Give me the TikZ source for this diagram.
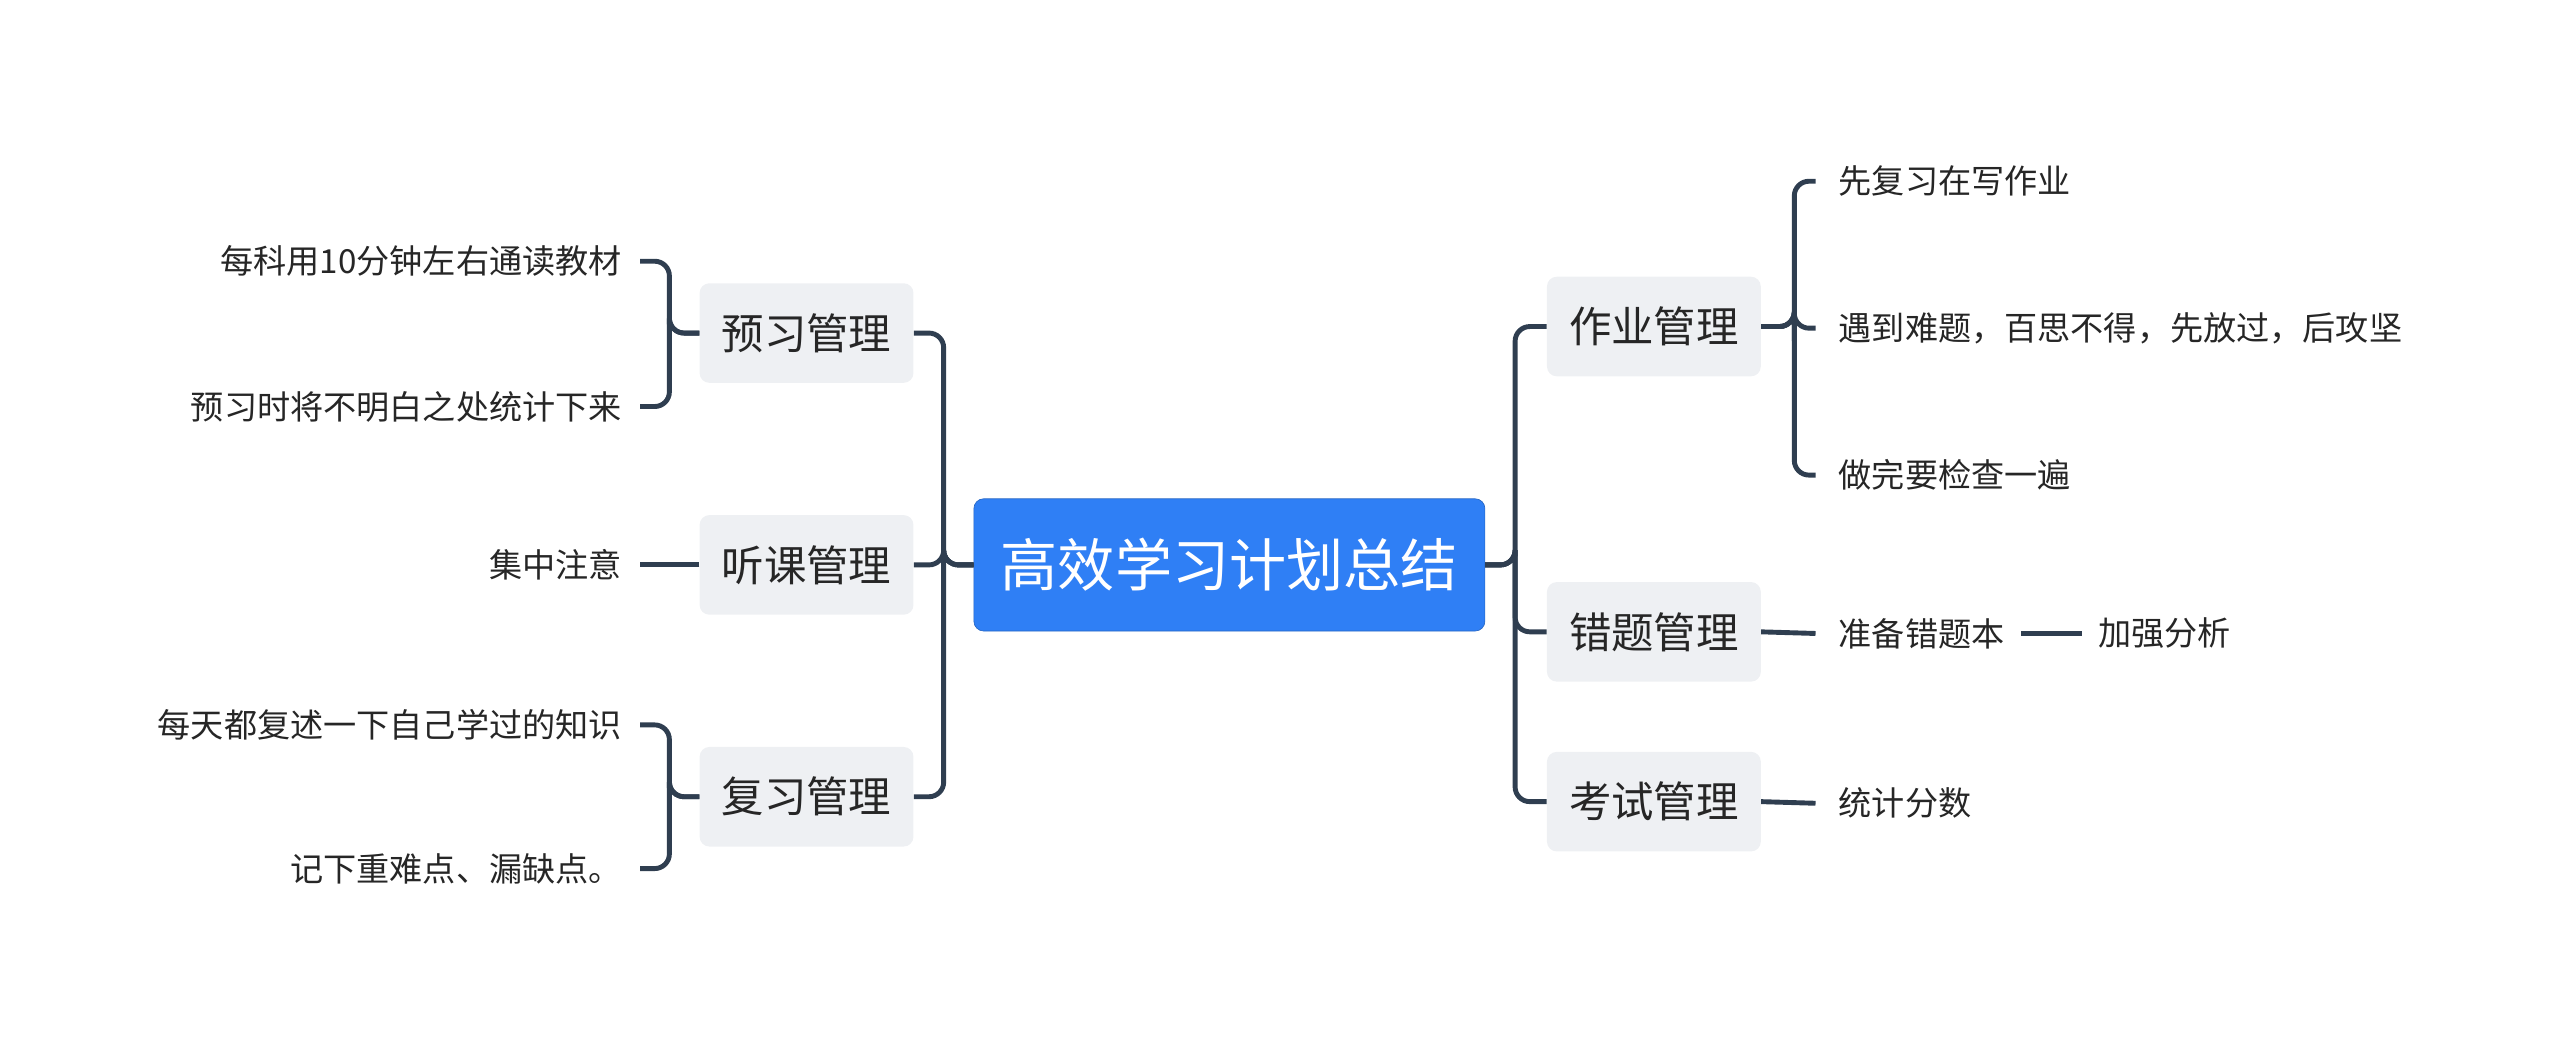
\documentclass[tikz,border=0pt]{standalone}
\usepackage{fontspec}
\setmainfont{Noto Sans CJK SC}
\begin{document}
\begin{tikzpicture}[x=1pt,y=-1pt,
  box/.style={fill=boxgray,rounded corners=6pt,minimum width=131pt,minimum height=61pt,font=\fontsize{26}{28}\selectfont,text=black!85},
  leaf/.style={font=\fontsize{20.3}{22}\selectfont,text=black!85,inner sep=0pt},
  con/.style={draw=linec,line width=3pt,rounded corners=9pt}]
\definecolor{boxgray}{HTML}{EEF0F3}
\definecolor{linec}{HTML}{2F3E50}
\definecolor{blu}{HTML}{2F7FF5}
\useasboundingbox (0,0) rectangle (1568,642);
\node[fill=blu,draw=blu!80!black,rounded corners=6pt,minimum width=313pt,minimum height=81pt,text=white,font=\fontsize{35}{38}\selectfont] (c) at (753,346) {高效学习计划总结};
\node[box] (l1) at (494,204) {预习管理};
\node[box] (l2) at (494,346) {听课管理};
\node[box] (l3) at (494,488) {复习管理};
\node[box] (r1) at (1013,200) {作业管理};
\node[box] (r2) at (1013,387) {错题管理};
\node[box] (r3) at (1013,491) {考试管理};
\node[leaf,anchor=east] (a1) at (381,160) {每科用10分钟左右通读教材};
\node[leaf,anchor=east] (a2) at (381,249) {预习时将不明白之处统计下来};
\node[leaf,anchor=east] (b1) at (381,346) {集中注意};
\node[leaf,anchor=east] (d1) at (381,444) {每天都复述一下自己学过的知识};
\node[leaf,anchor=east] (d2) at (381,532) {记下重难点、漏缺点。};
\node[leaf,anchor=west] (e1) at (1126,111) {先复习在写作业};
\node[leaf,anchor=west] (e2) at (1126,201) {遇到难题，百思不得，先放过，后攻坚};
\node[leaf,anchor=west] (e3) at (1126,291) {做完要检查一遍};
\node[leaf,anchor=west] (f1) at (1126,388) {准备错题本};
\node[leaf,anchor=west] (f2) at (1285,388) {加强分析};
\node[leaf,anchor=west] (g1) at (1126,492) {统计分数};
\foreach \n in {l1,l2,l3}{\draw[con] (c.west) -| (578,346) |- (\n.east);}
\foreach \n in {r1,r2,r3}{\draw[con] (c.east) -| (928,346) |- (\n.west);}
\foreach \n in {a1,a2}{\draw[con] (l1.west) -| (410,204) |- ([xshift=11pt]\n.east);}
\draw[con] (l2.west) -- ([xshift=11pt]b1.east);
\foreach \n in {d1,d2}{\draw[con] (l3.west) -| (410,488) |- ([xshift=11pt]\n.east);}
\foreach \n in {e1,e2,e3}{\draw[con] (r1.east) -| (1099,200) |- ([xshift=-14pt]\n.west);}
\draw[con] (r2.east) -- ([xshift=-14pt]f1.west);
\draw[con] ([xshift=10pt]f1.east) -- ([xshift=-10pt]f2.west);
\draw[con] (r3.east) -- ([xshift=-14pt]g1.west);
\end{tikzpicture}
\end{document}
